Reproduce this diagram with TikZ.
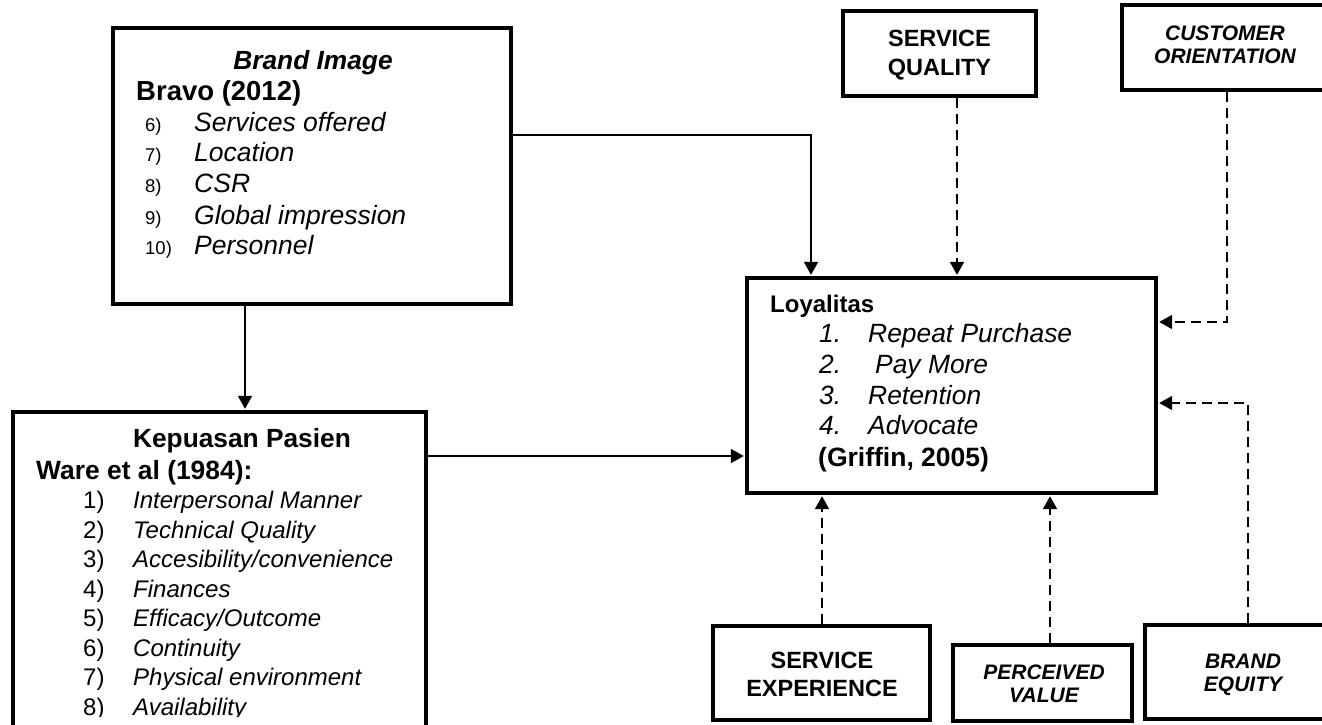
\documentclass[tikz,border=0pt]{standalone}
\usepackage{fontspec}
\setmainfont{Liberation Sans}
\usetikzlibrary{arrows.meta}
\begin{document}
\begin{tikzpicture}[x=1pt,y=-1pt,
  box/.style={draw=black, line width=3.2pt, inner sep=0pt, rectangle},
  conn/.style={line width=2pt, shorten >=1.6pt, -{Triangle[width=14pt,length=13pt]}},
  dconn/.style={conn, dash pattern=on 10pt off 6pt},
  tl/.style={inner sep=0pt, anchor=base west},
  tc/.style={inner sep=0pt, anchor=base},
  bsz/.style={font=\fontsize{18.5}{22}\selectfont},
  bit/.style={font=\itshape\fontsize{26.5}{31}\selectfont},
  ksz/.style={font=\fontsize{24}{29}\selectfont},
  kit/.style={font=\itshape\fontsize{24}{29}\selectfont},
  lit/.style={font=\itshape\fontsize{26.4}{31}\selectfont},
  capb/.style={align=center, inner sep=0pt, font=\bfseries\fontsize{23.5}{28.5}\selectfont},
  capi/.style={align=center, inner sep=0pt, font=\bfseries\itshape\fontsize{21}{23}\selectfont},
]
\useasboundingbox (0,0) rectangle (1322,724);
\clip (0,0) rectangle (1322,724);

% boxes
\node[box, minimum width=398pt, minimum height=276pt] (brand) at (312,166) {};
\node[box, minimum width=413pt, minimum height=368pt] (kep) at (219.5,596) {};
\node[box, minimum width=409pt, minimum height=215pt] (loy) at (951.5,385.5) {};
\node[box, minimum width=193pt, minimum height=85pt] (sq) at (939.5,53.5) {};
\node[box, minimum width=208pt, minimum height=85pt] (co) at (1226,47.5) {};
\node[box, minimum width=217pt, minimum height=94pt] (se) at (821.5,673) {};
\node[box, minimum width=179pt, minimum height=76pt] (pv) at (1042.5,683) {};
\node[box, minimum width=196pt, minimum height=94pt] (be) at (1243,672) {};

% Brand image texts
\node[tc, font=\bfseries\itshape\fontsize{26.3}{30}\selectfont] (bi) at (313,69) {Brand Image};
\node[tl, font=\bfseries\fontsize{27.5}{31}\selectfont] (bravo) at (136,100) {Bravo (2012)};
\node[tl, bsz] (bn1) at (145,131.5) {6)};
\node[tl, bit] (bt1) at (194,131.5) {Services offered};
\node[tl, bsz] (bn2) at (145,161.5) {7)};
\node[tl, bit] (bt2) at (194,161.5) {Location};
\node[tl, bsz] (bn3) at (145,192.5) {8)};
\node[tl, bit] (bt3) at (194,192.5) {CSR};
\node[tl, bsz] (bn4) at (145,224) {9)};
\node[tl, bit] (bt4) at (194,224) {Global impression};
\node[tl, bsz] (bn5) at (145,254.5) {10)};
\node[tl, bit] (bt5) at (194,254.5) {Personnel};

% Kepuasan texts
\node[tc, font=\bfseries\fontsize{26.3}{30}\selectfont] (kp) at (242,447) {Kepuasan Pasien};
\node[tl, font=\bfseries\fontsize{26.4}{30}\selectfont] (ware) at (36,479) {Ware et al (1984):};
\node[tl, ksz] (kn1) at (83,508.5) {1)};
\node[tl, kit] (kt1) at (133,508.5) {Interpersonal Manner};
\node[tl, ksz] (kn2) at (83,538) {2)};
\node[tl, kit] (kt2) at (133,538) {Technical Quality};
\node[tl, ksz] (kn3) at (83,567.5) {3)};
\node[tl, kit] (kt3) at (133,567.5) {Accesibility/convenience};
\node[tl, ksz] (kn4) at (83,597) {4)};
\node[tl, kit] (kt4) at (133,597) {Finances};
\node[tl, ksz] (kn5) at (83,626.5) {5)};
\node[tl, kit] (kt5) at (133,626.5) {Efficacy/Outcome};
\node[tl, ksz] (kn6) at (83,656) {6)};
\node[tl, kit] (kt6) at (133,656) {Continuity};
\node[tl, ksz] (kn7) at (83,685.5) {7)};
\node[tl, kit] (kt7) at (133,685.5) {Physical environment};
\begin{scope}
\clip (0,0) rectangle (430,716);
\node[tl, ksz] (kn8) at (83,715) {8)};
\node[tl, kit] (kt8) at (133,715) {Availability};
\end{scope}

% Loyalitas texts
\node[tl, font=\bfseries\fontsize{24}{29}\selectfont] (loyt) at (770,312) {Loyalitas};
\node[tl, lit] (ln1) at (819,342.5) {1.};
\node[tl, lit] (lt1) at (868,342.5) {Repeat Purchase};
\node[tl, lit] (ln2) at (819,373.5) {2.};
\node[tl, lit] (lt2) at (875,373.5) {Pay More};
\node[tl, lit] (ln3) at (819,404.5) {3.};
\node[tl, lit] (lt3) at (868,404.5) {Retention};
\node[tl, lit] (ln4) at (819,434.5) {4.};
\node[tl, lit] (lt4) at (868,434.5) {Advocate};
\node[tl, font=\bfseries\fontsize{26.5}{31}\selectfont] (grif) at (818,466) {(Griffin, 2005)};

% small boxes texts
\node[capb] (sqt) at (939.5,55) {SERVICE\\QUALITY};
\node[capi] (cot) at (1225,44.5) {CUSTOMER\\ORIENTATION};
\node[capb] (set) at (822,674.5) {SERVICE\\EXPERIENCE};
\node[capi] (pvt) at (1044,684) {PERCEIVED\\VALUE};
\node[capi] (bet) at (1243,674.5) {BRAND\\EQUITY};

% connectors
\coordinate (bl) at (811,135);
\draw[conn] (brand.east |- bl) -- (bl) -- (loy.north -| bl);
\coordinate (bk) at (245,0);
\draw[conn] (brand.south -| bk) -- (kep.north -| bk);
\coordinate (kl) at (0,456);
\draw[conn] (kep.east |- kl) -- (loy.west |- kl);
\coordinate (sqx) at (957,0);
\draw[dconn] (sq.south -| sqx) -- (loy.north -| sqx);
\coordinate (cl) at (1227,322);
\draw[dconn] (co.south -| cl) -- (cl) -- (loy.east |- cl);
\coordinate (bel) at (1248,403);
\draw[dconn] (be.north -| bel) -- (bel) -- (loy.east |- bel);
\coordinate (sex) at (822,0);
\draw[dconn] (se.north -| sex) -- (loy.south -| sex);
\coordinate (pvx) at (1050,0);
\draw[dconn] (pv.north -| pvx) -- (loy.south -| pvx);
\end{tikzpicture}
\end{document}
